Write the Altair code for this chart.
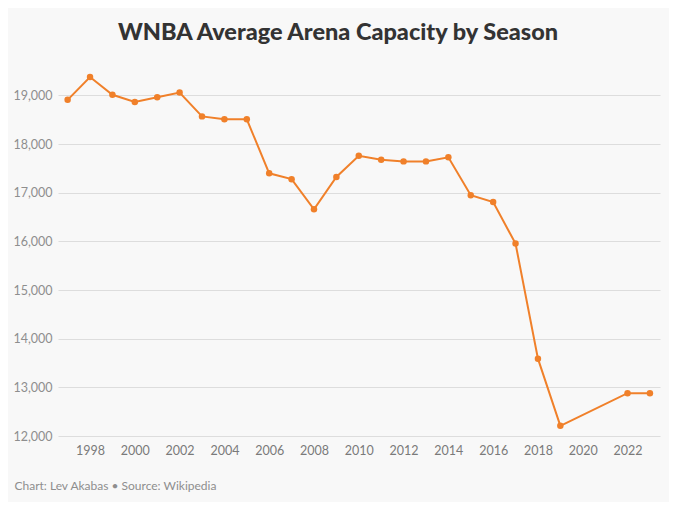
import altair as alt
import pandas as pd

years = [1997, 1998, 1999, 2000, 2001, 2002, 2003, 2004, 2005, 2006, 2007, 2008, 2009,
         2010, 2011, 2012, 2013, 2014, 2015, 2016, 2017, 2018, 2019, 2022, 2023]
capacity = [18910, 19380, 19015, 18865, 18965, 19060, 18570, 18510, 18510, 17400, 17280, 16660, 17325,
            17760, 17680, 17645, 17645, 17730, 16950, 16810, 15955, 13590, 12210, 12880, 12880]
year_ticks = list(range(1998, 2023, 2))
y_ticks = [12000, 13000, 14000, 15000, 16000, 17000, 18000, 19000]

df = pd.DataFrame({"Season": years, "Capacity": capacity})

ORANGE = "#f0802a"
GREY = "#8e8e8e"

base = alt.Chart(df).encode(
    x=alt.X("Season:Q",
            scale=alt.Scale(domain=[1996.57, 2023.45], nice=False, zero=False),
            axis=alt.Axis(values=year_ticks, format="d", grid=False, ticks=False, domain=False,
                          labelPadding=8, labelColor="#7a7a7a", labelFontSize=12.5, labelFont="Lato",
                          title="Chart: Lev Akabas • Source: Wikipedia",
                          titleFont="Lato", titleFontSize=12, titleFontWeight="normal",
                          titleColor=GREY, titleAnchor="start", titleAlign="left",
                          titleX=-44, titleY=49, titleBaseline="middle")),
    y=alt.Y("Capacity:Q",
            scale=alt.Scale(domain=[12000, 19400], nice=False, zero=False),
            axis=alt.Axis(values=y_ticks, format=",d", ticks=False, domain=False,
                          gridColor="#dddddd", gridWidth=1, labelPadding=6,
                          labelColor=GREY, labelFontSize=12.5, labelFont="Lato", title=None)),
)

line = base.mark_line(color=ORANGE, strokeWidth=2)
pts = base.mark_circle(color=ORANGE, size=42, opacity=1)

chart = (line + pts).properties(
    width=602,
    height=360,
    background="#f8f8f8",
    padding={"left": 50, "top": 68, "right": 9, "bottom": 66},
    autosize=alt.AutoSizeParams(type="none"),
    title=alt.TitleParams("WNBA Average Arena Capacity by Season", font="Lato", fontSize=23.5,
                          fontWeight=900, color="#333333", anchor="middle", dx=-21,
                          offset=28),
).configure_view(stroke=None)

chart.save("out.html", embed_options={"renderer": "svg", "actions": False})
